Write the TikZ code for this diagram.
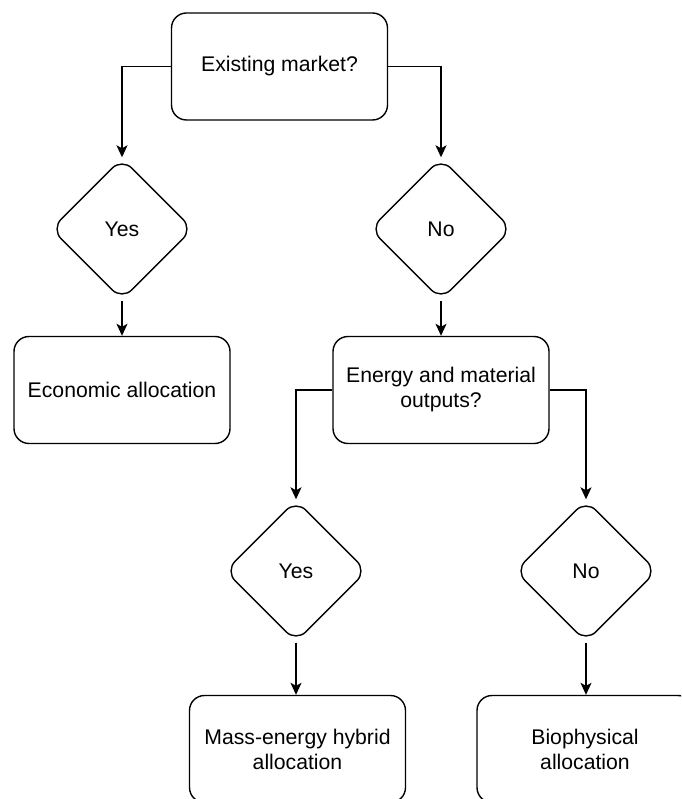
\documentclass[tikz,border=0pt]{standalone}
\usepackage{fontspec}
\setmainfont{Liberation Sans}
\usetikzlibrary{shapes.geometric,arrows.meta}
\begin{document}
\begin{tikzpicture}[x=1pt,y=-1pt,
  every node/.style={font=\fontsize{21.2}{25}\selectfont, align=center},
  box/.style={draw, line width=1.4pt, rounded corners=15pt, minimum width=216pt, minimum height=107pt, inner sep=0pt},
  choice/.style={draw, line width=1.4pt, diamond, aspect=1, rounded corners=14pt, minimum width=142pt, minimum height=142pt, inner sep=0pt},
  link/.style={draw, line width=1.4pt, -{Stealth[length=12pt,width=11pt,inset=3pt]}}
]
\useasboundingbox (0,0) rectangle (681,799);
\clip (0,0) rectangle (681,799);

% question boxes
\node[box] (market) at (279.5,66.5) {Existing market?};
\node[box] (outputs) at (441,390) {Energy and material\\outputs?};

% answers to the first question
\node[choice] (yes1) at (122,229) {Yes};
\node[choice] (no1) at (441,229) {No};

% answers to the second question
\node[choice] (yes2) at (296,571) {Yes};
\node[choice] (no2) at (586,571) {No};

% resulting allocation methods
\node[box] (econ) at (122,390) {Economic allocation};
\node[box] (hybrid) at (297.5,749) {Mass-energy hybrid\\allocation};
\node[box] (bio) at (585,749) {Biophysical\\allocation};

% connectors
\draw[link] (market.west) -| (yes1.north);
\draw[link] (market.east) -| (no1.north);
\draw[link] (yes1.south) -- (econ.north);
\draw[link] (no1.south) -- (outputs.north);
\draw[link] (outputs.west) -| (yes2.north);
\draw[link] (outputs.east) -| (no2.north);
\draw[link] (yes2.south) -- (yes2.south |- hybrid.north);
\draw[link] (no2.south) -- (no2.south |- bio.north);
\end{tikzpicture}
\end{document}
